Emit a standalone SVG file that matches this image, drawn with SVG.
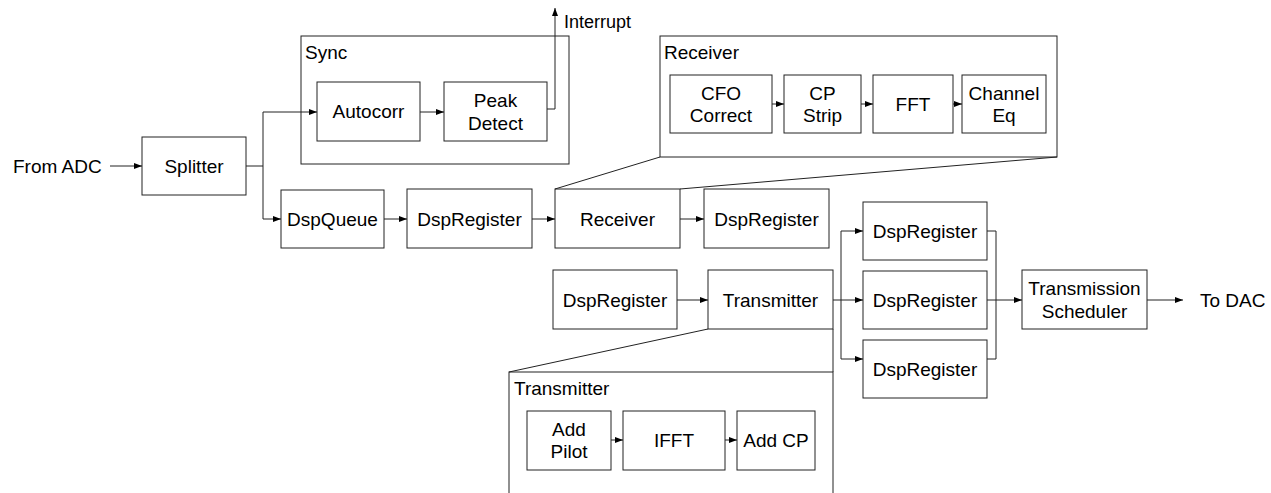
<svg xmlns="http://www.w3.org/2000/svg" width="1271" height="493" viewBox="0 0 1271 493">
<defs>
<marker id="ah" markerUnits="userSpaceOnUse" markerWidth="8" markerHeight="6" refX="8" refY="3" orient="auto">
<path d="M0,0 L8,3 L0,6 z" fill="#000"/>
</marker>
<style>
rect{fill:#fff;stroke:#222;stroke-width:1}
text{font-family:"Liberation Sans",Arial,Helvetica,sans-serif;font-size:19px;fill:#000}
.c{text-anchor:middle}
.w{stroke:#222;stroke-width:1;fill:none}
.a{stroke:#222;stroke-width:1;fill:none;marker-end:url(#ah)}
</style>
</defs>
<rect x="0" y="0" width="1271" height="493" style="fill:#fff;stroke:none"/>
<g id="sync-group">
<rect x="301" y="36" width="268" height="128"/>
<text x="305" y="59">Sync</text>
</g>
<g id="receiver-group">
<rect x="660" y="36" width="397" height="121"/>
<text x="664" y="59">Receiver</text>
</g>
<g id="transmitter-group">
<rect x="509" y="372" width="324" height="140"/>
<text x="514" y="395">Transmitter</text>
</g>
<g id="from-adc"><text x="13" y="173">From ADC</text></g>
<g id="splitter"><rect x="142" y="137" width="104" height="58"/><text class="c" x="194" y="173">Splitter</text></g>
<g id="autocorr"><rect x="317" y="82" width="103" height="59"/><text class="c" x="368.5" y="118">Autocorr</text></g>
<g id="peak-detect"><rect x="444" y="82" width="103" height="59"/><text class="c" x="495.5" y="107">Peak</text><text class="c" x="495.5" y="129.5">Detect</text></g>
<g id="interrupt"><text x="564" y="28" style="font-size:18px">Interrupt</text></g>
<g id="cfo"><rect x="670" y="75" width="102" height="58"/><text class="c" x="721" y="99.5">CFO</text><text class="c" x="721" y="122">Correct</text></g>
<g id="cpstrip"><rect x="784" y="75" width="77" height="58"/><text class="c" x="822.5" y="99.5">CP</text><text class="c" x="822.5" y="122">Strip</text></g>
<g id="fft"><rect x="873" y="75" width="80" height="58"/><text class="c" x="913" y="111">FFT</text></g>
<g id="chaneq"><rect x="962" y="75" width="84" height="58"/><text class="c" x="1004" y="99.5">Channel</text><text class="c" x="1004" y="122">Eq</text></g>
<g id="dspqueue"><rect x="281" y="190" width="103" height="58"/><text class="c" x="332.5" y="226">DspQueue</text></g>
<g id="dspreg1"><rect x="407" y="189" width="125" height="59"/><text class="c" x="469.5" y="226">DspRegister</text></g>
<g id="receiver"><rect x="555" y="189" width="125" height="59"/><text class="c" x="617.5" y="226">Receiver</text></g>
<g id="dspreg2"><rect x="704" y="189" width="125" height="59"/><text class="c" x="766.5" y="226">DspRegister</text></g>
<g id="dspreg3"><rect x="553" y="270" width="124" height="59"/><text class="c" x="615" y="307">DspRegister</text></g>
<g id="transmitter"><rect x="708" y="270" width="125" height="59"/><text class="c" x="770.5" y="307">Transmitter</text></g>
<g id="dspreg-a"><rect x="863" y="202" width="124" height="58"/><text class="c" x="925" y="238">DspRegister</text></g>
<g id="dspreg-b"><rect x="863" y="271" width="124" height="58"/><text class="c" x="925" y="307">DspRegister</text></g>
<g id="dspreg-c"><rect x="863" y="340" width="124" height="58"/><text class="c" x="925" y="376">DspRegister</text></g>
<g id="scheduler"><rect x="1022" y="270" width="125" height="59"/><text class="c" x="1084.5" y="295">Transmission</text><text class="c" x="1084.5" y="317.5">Scheduler</text></g>
<g id="to-dac"><text x="1200" y="307">To DAC</text></g>
<g id="addpilot"><rect x="527" y="411" width="84" height="59"/><text class="c" x="569" y="435.5">Add</text><text class="c" x="569" y="458">Pilot</text></g>
<g id="ifft"><rect x="623" y="411" width="102" height="59"/><text class="c" x="674" y="447">IFFT</text></g>
<g id="addcp"><rect x="737" y="411" width="78" height="59"/><text class="c" x="776" y="447">Add CP</text></g>
<g id="connectors">
<path class="a" d="M110,166 H142"/>
<path class="a" d="M246,166 H263 V112 H317"/>
<path class="a" d="M263,166 V219 H281"/>
<path class="a" d="M420,112 H444"/>
<path class="a" d="M547,109 H555 V8"/>
<path class="a" d="M384,219 H407"/>
<path class="a" d="M532,219 H555"/>
<path class="a" d="M680,219 H704"/>
<path class="a" d="M677,300 H708"/>
<path class="w" d="M833,300 H841 M841,231 V359"/>
<path class="a" d="M841,231 H863"/>
<path class="a" d="M841,300 H863"/>
<path class="a" d="M841,359 H863"/>
<path class="w" d="M987,231 H996 V359 M987,300 H996 M987,359 H996"/>
<path class="a" d="M996,300 H1022"/>
<path class="a" d="M1147,300 H1183"/>
<path class="a" d="M772,104 H784"/>
<path class="a" d="M861,104 H873"/>
<path class="a" d="M953,104 H962"/>
<path class="a" d="M611,440 H623"/>
<path class="a" d="M725,440 H737"/>
<path class="w" d="M660,157 L555,189 M1057,157 L680,189"/>
<path class="w" d="M708,329 L509,372 M833,329 L833,372"/>
</g>
</svg>
